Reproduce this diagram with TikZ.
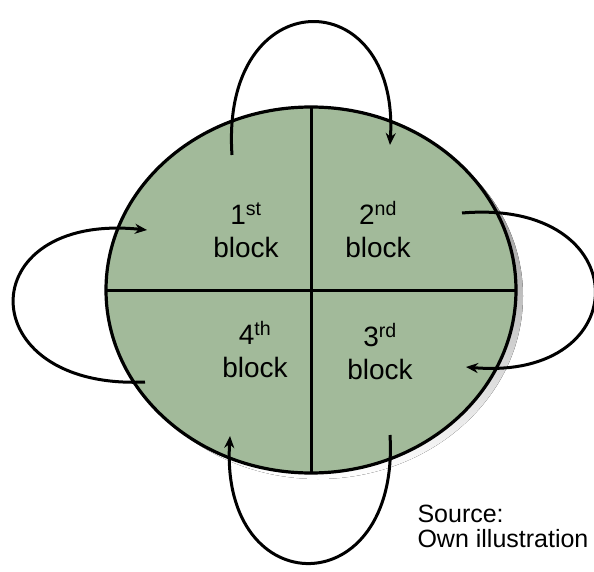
\documentclass[tikz,border=0pt]{standalone}
\usepackage{fontspec}
\setmainfont{Liberation Sans}
\usetikzlibrary{shapes.geometric,arrows.meta}
\definecolor{sage}{RGB}{162,186,154}
\definecolor{shade}{RGB}{128,128,128}
\tikzset{
  turn/.style={line width=3pt, -{Stealth[length=12pt,width=10pt]}},
  blocktext/.style={align=center, font=\fontsize{28}{33}\selectfont},
}
\begin{document}
\begin{tikzpicture}[x=1pt, y=-1pt]
	\useasboundingbox (0,0) rectangle (594,572);
	%disc with shadow
	\fill[shade] (318,296) ellipse [x radius=205, y radius=183];
	\node[ellipse, draw, line width=3.2pt, fill=sage, minimum width=410pt, minimum height=366pt, inner sep=0pt, outer sep=0pt] (disc) at (311,290) {};
	%
	%dividers
	\draw[line width=3pt] (disc.north) -- (disc.south);
	\draw[line width=3pt] (disc.west) -- (disc.east);
	%
	%blocks
	\node[blocktext] (b1) at (246,230) {1\textsuperscript{st}\\block};
	\node[blocktext] (b2) at (378,230) {2\textsuperscript{nd}\\block};
	\node[blocktext] (b3) at (380,352) {3\textsuperscript{rd}\\block};
	\node[blocktext] (b4) at (255,350) {4\textsuperscript{th}\\block};
	%
	%arrow ends
	\coordinate (top1) at (232,155);
	\coordinate (top2) at (390,145);
	\coordinate (rgt1) at (462,213);
	\coordinate (rgt2) at (466,367);
	\coordinate (bot1) at (390,435);
	\coordinate (bot2) at (230,436);
	\coordinate (lft1) at (145,382);
	\coordinate (lft2) at (147,230);
	%
	%arrows
	\draw[turn] (top1) .. controls (220,-20) and (400,-20) .. (top2);
	\draw[turn] (rgt1) .. controls (638,198) and (638,382) .. (rgt2);
	\draw[turn] (bot1) .. controls (400,605) and (220,605) .. (bot2);
	\draw[turn] (lft1) .. controls (-30,390) and (-30,212) .. (lft2);
	%
	%source
	\node[anchor=north west, align=left, font=\fontsize{25}{25}\selectfont] (src) at (414,502) {Source:\\Own illustration};
\end{tikzpicture}
\end{document}
